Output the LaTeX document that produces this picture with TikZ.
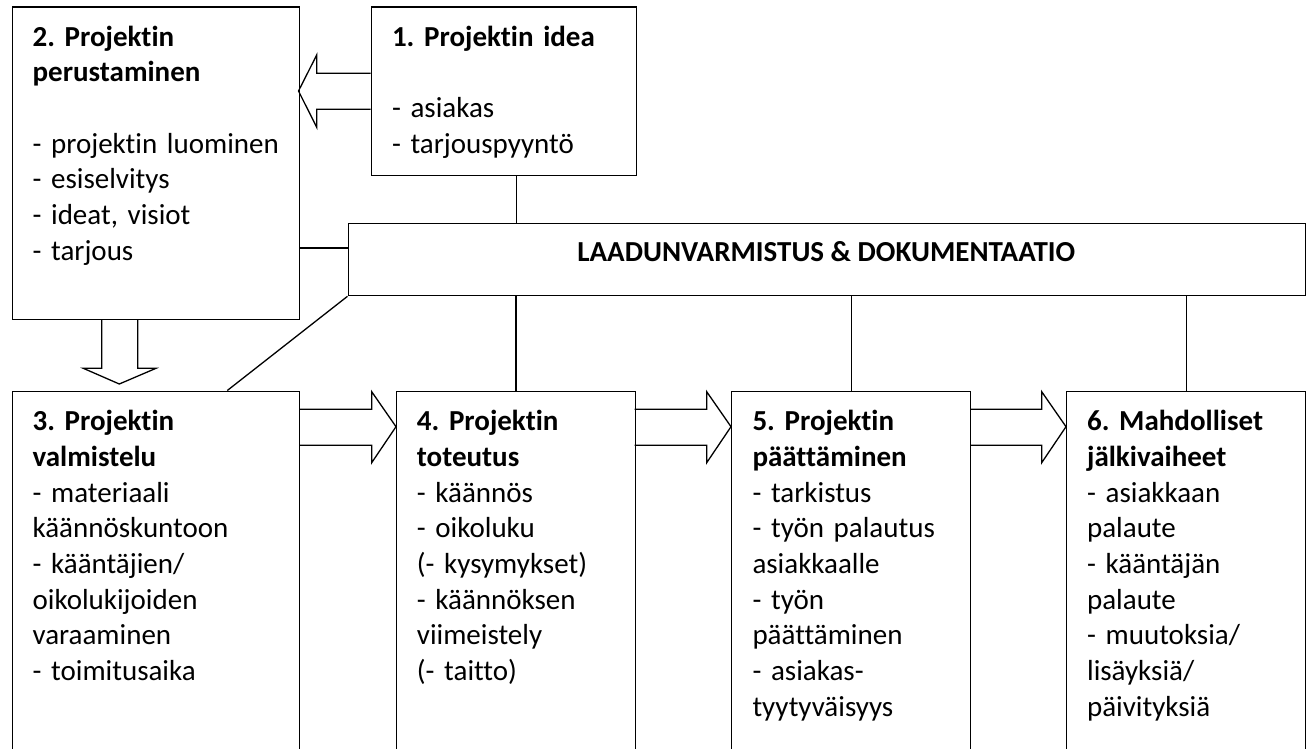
\documentclass[tikz,border=0pt]{standalone}
\usepackage{fontspec}
\setmainfont{Carlito}[Ligatures=NoCommon]
\frenchspacing
\tikzset{
  box/.style={draw, line width=1.3pt, rectangle, inner sep=0pt, anchor=north west},
  txt/.style={anchor=north west, inner sep=0pt, text width=300pt, align=left,
              font=\fontsize{29}{35.7}\selectfont\frenchspacing},
  conn/.style={line width=1.3pt},
  blockarrow/.style={line width=1.3pt, line join=miter}
}
\begin{document}
\begin{tikzpicture}[x=1pt,y=-1pt]
\clip (0,0) rectangle (1312,749);
\fill[white] (0,0) rectangle (1312,749);
% boxes
\node[box, minimum width=287pt, minimum height=312.5pt] (b2) at (11.5,6.5) {};
\node[box, minimum width=264.5pt, minimum height=168.5pt] (b1) at (371,6.5) {};
\node[box, minimum width=957.5pt, minimum height=72.3pt] (laad) at (347.5,222.7) {};
\node[box, minimum width=287.5pt, minimum height=380pt] (b3) at (11.5,390.5) {};
\node[box, minimum width=238.7pt, minimum height=380pt] (b4) at (396,390.5) {};
\node[box, minimum width=239pt, minimum height=380pt] (b5) at (731,390.5) {};
\node[box, minimum width=239pt, minimum height=380pt] (b6) at (1066,390.5) {};
% texts
\node[txt] (t2) at (32.4,21) {\strut\textbf{2. Projektin}\\\textbf{perustaminen}\\\strut\\- projektin luominen\\- esiselvitys\\- ideat, visiot\\- tarjous};
\node[txt] (t1) at (391.8,21) {\strut\textbf{1. Projektin idea}\\\strut\\- asiakas\\- tarjouspyyntö};
\node[anchor=base, inner sep=0pt, font=\fontsize{29}{35.7}\selectfont\bfseries] (lt) at (826.3,261) {LAADUNVARMISTUS \& DOKUMENTAATIO};
\node[txt] (t3) at (32.4,405.5) {\strut\textbf{3. Projektin}\\\textbf{valmistelu}\\- materiaali\\käännöskuntoon\\- kääntäjien/\\oikolukijoiden\\varaaminen\\- toimitusaika};
\node[txt] (t4) at (416.7,405.5) {\strut\textbf{4. Projektin}\\\textbf{toteutus}\\- käännös\\- oikoluku\\(- kysymykset)\\- käännöksen\\viimeistely\\(- taitto)};
\node[txt] (t5) at (752.3,405.5) {\strut\textbf{5. Projektin}\\\textbf{päättäminen}\\- tarkistus\\- työn palautus\\asiakkaalle\\- työn\\päättäminen\\- asiakas-\\tyytyväisyys};
\node[txt] (t6) at (1086.9,405.5) {\strut\textbf{6. Mahdolliset}\\\textbf{jälkivaiheet}\\- asiakkaan\\palaute\\- kääntäjän\\palaute\\- muutoksia/\\lisäyksiä/\\päivityksiä};
% connectors to the quality box
\draw[conn] ([xshift=12.3pt]b1.south) -- ([xshift=12.3pt]b1.south |- laad.north);
\draw[conn] ([yshift=11.5pt]laad.west) -- ([yshift=11.5pt]laad.west -| b2.east);
\draw[conn] (laad.south west) -- ([xshift=215.8pt]b3.north west);
\draw[conn] (b4.north) -- (b4.north |- laad.south);
\draw[conn] (b5.north) -- (b5.north |- laad.south);
\draw[conn] (b6.north) -- (b6.north |- laad.south);
% block arrows
\draw[blockarrow] (370.7,73.3) -- (316.7,73.3) -- (316.7,55) -- (298.5,91) -- (316.7,127.3) -- (316.7,109.3) -- (370.7,109.3);
\draw[blockarrow] (101.7,319) -- (101.7,368.3) -- (83.3,368.3) -- (119.3,384) -- (156,368.3) -- (137.7,368.3) -- (137.7,319);
\draw[blockarrow] (299,409.3) -- (371.7,409.3) -- (371.7,391.7) -- (396,426.7) -- (371.7,462.7) -- (371.7,445.3) -- (299,445.3);
\draw[blockarrow] (634.7,409.3) -- (706.7,409.3) -- (706.7,391.7) -- (731,426.7) -- (706.7,462.7) -- (706.7,445.3) -- (634.7,445.3);
\draw[blockarrow] (970,409.3) -- (1041.7,409.3) -- (1041.7,391.7) -- (1066,426.7) -- (1041.7,462.7) -- (1041.7,445.3) -- (970,445.3);
\end{tikzpicture}
\end{document}
